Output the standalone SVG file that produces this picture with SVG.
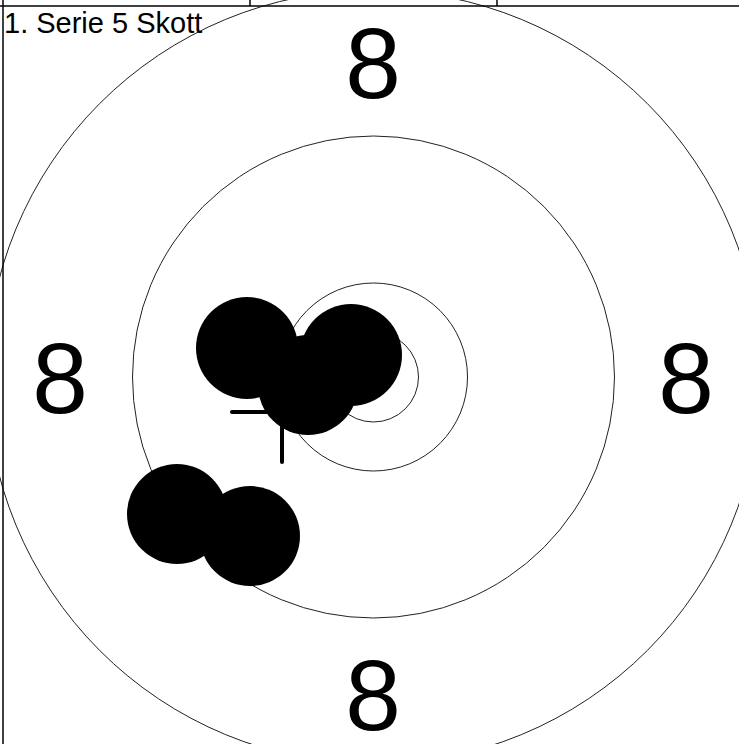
<svg xmlns="http://www.w3.org/2000/svg" width="739" height="744" viewBox="0 0 739 744">
<style>
.ring{fill:none;stroke:#222;stroke-width:1}
.frame{stroke:#000;stroke-width:1.5;fill:none}
.num{font-family:"Liberation Sans",Arial,sans-serif;font-size:100px;fill:#000;text-anchor:middle}
.title{font-family:"Liberation Sans",Arial,sans-serif;font-size:29px;fill:#000}
.shot{fill:#000}
.cross{stroke:#000;stroke-width:4;stroke-linecap:round}
</style>
<rect width="739" height="744" fill="#fff"/>
<g id="rings">
<circle class="ring" cx="373.5" cy="377" r="387"/>
<circle class="ring" cx="373.5" cy="377" r="241"/>
<circle class="ring" cx="373.5" cy="377" r="94"/>
<circle class="ring" cx="373.5" cy="377" r="45"/>
</g>
<g id="frame">
<line class="frame" x1="0" y1="6" x2="739" y2="6"/>
<line class="frame" x1="3" y1="0" x2="3" y2="744"/>
<line class="frame" x1="250" y1="0" x2="250" y2="6"/>
<line class="frame" x1="497" y1="0" x2="497" y2="6"/>
</g>
<text class="title" x="4" y="33">1. Serie 5 Skott</text>
<g id="labels">
<text class="num" x="373" y="98">8</text>
<text class="num" x="373" y="730">8</text>
<text class="num" x="60" y="413">8</text>
<text class="num" x="686" y="413">8</text>
</g>
<g id="cross">
<line class="cross" x1="232" y1="412" x2="332" y2="412"/>
<line class="cross" x1="282" y1="362" x2="282" y2="462"/>
</g>
<g id="shots">
<circle class="shot" cx="247" cy="348" r="51"/>
<circle class="shot" cx="351" cy="355" r="51"/>
<circle class="shot" cx="308" cy="385" r="50"/>
<circle class="shot" cx="177" cy="514" r="50"/>
<circle class="shot" cx="250" cy="536" r="50"/>
</g>
</svg>
